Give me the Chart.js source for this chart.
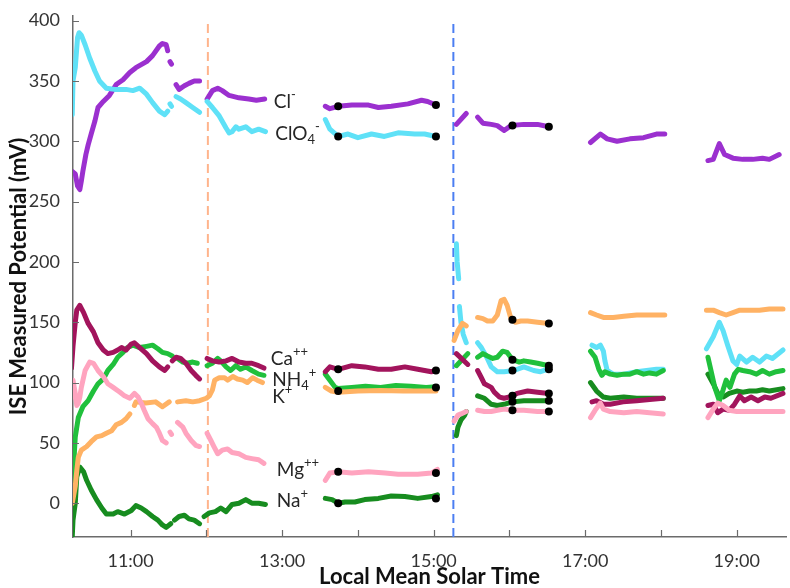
<!DOCTYPE html>
<html>
<head>
<meta charset="utf-8">
<script src="https://cdn.jsdelivr.net/npm/chart.js@4"></script>
<style>
  html, body { margin: 0; padding: 0; background: #fff; }
  #wrap { width: 790px; height: 588px; position: relative; }
</style>
</head>
<body>
<div id="wrap"><canvas id="iseChart"></canvas></div>
<script>
// time in decimal hours (LMST), potential in mV; each inner array is one run of readings
const clSegments = [
  [[10.23,275],[10.27,273],[10.30,263],[10.33,260],[10.35,267],[10.37,275],[10.41,289],[10.44,297],[10.48,306],[10.53,317],[10.57,328],[10.64,333],[10.72,338],[10.81,347],[10.90,351],[10.99,357],[11.07,361],[11.21,366],[11.29,371],[11.38,379],[11.42,381],[11.47,380],[11.49,375]],
  [[11.52,366],[11.54,364]],
  [[11.60,347],[11.64,343],[11.71,346],[11.77,348],[11.84,350],[11.91,350]],
  [[12.01,335],[12.08,342],[12.15,344],[12.21,342],[12.30,338],[12.43,336],[12.56,335],[12.66,334],[12.77,335]],
  [[13.57,329],[13.63,327],[13.74,329],[13.92,330],[14.14,330],[14.27,328],[14.44,329],[14.66,331],[14.84,334],[14.92,333],[15.03,330]],
  [[15.30,314],[15.43,323]],
  [[15.58,320],[15.65,315],[15.76,314],[15.84,313],[15.93,309],[16.02,313],[16.19,314],[16.37,314],[16.52,312]],
  [[17.07,299],[17.20,306],[17.29,302],[17.42,300],[17.59,302],[17.77,303],[17.94,306],[18.05,306]],
  [[18.62,284],[18.69,285],[18.77,298],[18.84,289],[18.95,286],[19.08,285],[19.21,285],[19.34,286],[19.43,285],[19.56,289]]
];

const clo4Segments = [
  [[10.23,322],[10.24,350],[10.27,361],[10.30,386],[10.32,390],[10.35,388],[10.40,380],[10.46,369],[10.53,358],[10.59,350],[10.68,344],[10.79,343],[10.94,343],[11.03,342],[11.12,344],[11.21,339],[11.29,332],[11.38,325],[11.45,322],[11.49,325]],
  [[11.52,331],[11.54,329]],
  [[11.60,337],[11.66,335],[11.73,332],[11.82,328],[11.91,324]],
  [[12.01,333],[12.08,328],[12.17,321],[12.26,311],[12.30,307],[12.34,308],[12.39,312],[12.43,310],[12.52,312],[12.60,308],[12.69,310],[12.78,308]],
  [[13.57,318],[13.63,310],[13.74,304],[13.87,306],[14.00,303],[14.18,306],[14.35,304],[14.53,307],[14.75,306],[14.88,306],[15.03,304]],
  [[15.30,215],[15.31,200],[15.33,186]],
  [[15.34,163],[15.36,150],[15.39,140],[15.43,133]],
  [[15.58,133],[15.63,129],[15.70,121],[15.76,113],[15.84,109],[15.93,109],[16.06,110],[16.19,113],[16.32,110],[16.41,109],[16.50,111]],
  [[17.09,131],[17.15,129],[17.20,131],[17.24,126],[17.26,118],[17.29,110],[17.37,107],[17.51,107],[17.68,109],[17.81,110],[17.94,111],[18.03,111]],
  [[18.60,128],[18.69,138],[18.77,150],[18.82,143],[18.88,131],[18.95,118],[19.00,115],[19.04,122],[19.13,117],[19.21,121],[19.30,117],[19.39,122],[19.47,120],[19.61,127]]
];

const caSegments = [
  [[10.22,112],[10.24,130],[10.27,150],[10.29,160],[10.33,164],[10.38,158],[10.44,149],[10.51,142],[10.57,133],[10.64,127],[10.70,124],[10.77,125],[10.83,127],[10.88,129],[10.94,127],[11.01,132],[11.05,133],[11.12,129],[11.21,124],[11.29,118],[11.38,113],[11.45,110],[11.49,113]],
  [[11.55,118],[11.60,121],[11.66,120],[11.73,116],[11.80,110],[11.86,106],[11.91,103]],
  [[12.01,120],[12.08,118],[12.17,117],[12.26,118],[12.34,120],[12.43,117],[12.52,116],[12.60,116],[12.69,114],[12.76,112]],
  [[13.57,109],[13.63,113],[13.74,111],[13.92,114],[14.09,113],[14.27,111],[14.44,111],[14.62,113],[14.79,111],[14.97,109],[15.03,110]],
  [[15.30,124],[15.45,115]],
  [[15.58,110],[15.63,104],[15.67,99],[15.76,96],[15.80,92],[15.87,88],[15.93,87],[16.00,88],[16.10,91],[16.24,93],[16.37,92],[16.52,91]],
  [[17.09,84],[17.15,85],[17.24,82],[17.33,82],[17.50,84],[17.68,85],[17.85,86],[18.03,87]],
  [[18.62,81],[18.69,82],[18.75,75],[18.82,78],[18.90,77],[18.97,82],[19.04,89],[19.10,85],[19.19,88],[19.28,85],[19.37,88],[19.45,87],[19.61,91]]
];

const nh4Segments = [
  [[10.23,-28],[10.23,16],[10.24,22],[10.27,55],[10.31,71],[10.37,80],[10.44,85],[10.51,93],[10.57,99],[10.64,103],[10.70,110],[10.77,115],[10.83,121],[10.90,125],[10.96,129],[11.03,131],[11.12,129],[11.21,130],[11.29,131],[11.36,128],[11.42,125],[11.49,124],[11.55,122]],
  [[11.62,120],[11.69,117],[11.75,116],[11.82,117],[11.88,116]],
  [[12.01,114],[12.08,116],[12.15,120],[12.19,118],[12.26,113],[12.32,110],[12.39,114],[12.45,111],[12.52,113],[12.60,110],[12.69,107],[12.76,106]],
  [[13.57,107],[13.63,102],[13.70,96],[13.74,95],[13.92,96],[14.10,97],[14.30,96],[14.50,97.5],[14.70,97],[14.90,96],[15.03,96.5]],
  [[15.30,114],[15.45,124]],
  [[15.58,121],[15.65,124],[15.71,122],[15.78,120],[15.84,121],[15.91,126],[15.97,125],[16.04,119],[16.13,117],[16.19,118],[16.28,117],[16.37,116],[16.52,114]],
  [[17.07,126],[17.13,121],[17.18,111],[17.22,106],[17.26,109],[17.33,107],[17.42,106],[17.51,107],[17.59,107],[17.68,109],[17.77,107],[17.85,108],[17.94,107],[18.03,110]],
  [[18.62,121],[18.66,110],[18.71,96],[18.77,85],[18.82,94],[18.86,102],[18.91,96],[18.97,107],[19.02,111],[19.08,110],[19.17,109],[19.26,107],[19.34,110],[19.43,107],[19.52,109],[19.61,110]]
];

const kSegments = [
  [[10.23,0],[10.27,14],[10.29,27],[10.31,38],[10.35,44],[10.42,47],[10.48,51],[10.55,55],[10.62,56],[10.68,58],[10.75,60],[10.81,65],[10.88,67],[10.94,70],[10.99,74]],
  [[11.05,81],[11.07,84],[11.20,83],[11.33,84],[11.42,80],[11.51,84]],
  [[11.62,84],[11.73,85],[11.82,84],[11.91,85],[12.00,87],[12.04,89],[12.08,94],[12.11,102],[12.17,104],[12.24,104],[12.28,102],[12.35,105],[12.41,103],[12.48,102],[12.54,100],[12.61,104],[12.67,102],[12.74,100]],
  [[13.57,96],[13.65,93],[13.74,92],[14.00,93],[14.30,93.5],[14.60,93],[14.90,93],[15.03,93]],
  [[15.27,135],[15.32,143],[15.38,149],[15.43,147]],
  [[15.58,154],[15.65,153],[15.71,151],[15.78,151],[15.84,156],[15.89,168],[15.93,169],[15.97,164],[16.02,153],[16.08,150],[16.15,151],[16.24,151],[16.37,150],[16.52,149]],
  [[17.07,158],[17.15,156],[17.24,154],[17.37,154],[17.51,155],[17.68,156],[17.85,156],[18.05,156]],
  [[18.60,160],[18.69,160],[18.77,158],[18.86,156],[18.95,158],[19.04,160],[19.17,160],[19.30,160],[19.43,161],[19.61,161]]
];

const mgSegments = [
  [[10.23,88],[10.24,102],[10.27,91],[10.29,81],[10.31,83],[10.33,88],[10.35,96],[10.40,110],[10.46,117],[10.51,116],[10.57,110],[10.64,105],[10.70,99],[10.77,96],[10.86,92],[10.92,89],[10.99,87],[11.05,91],[11.10,88],[11.14,83],[11.18,77],[11.23,70],[11.29,66],[11.34,63],[11.38,58],[11.42,52],[11.47,50]],
  [[11.52,59],[11.54,57]],
  [[11.62,67],[11.69,63],[11.73,58],[11.80,52],[11.86,48],[11.91,47]],
  [[12.01,58],[12.06,52],[12.10,47],[12.15,41],[12.21,44],[12.28,45],[12.34,42],[12.43,41],[12.52,38],[12.60,37],[12.69,36],[12.76,33]],
  [[13.57,19],[13.63,25],[13.74,26],[13.92,25],[14.14,26],[14.36,25],[14.53,24],[14.79,24],[14.97,25],[15.05,28]],
  [[15.27,68],[15.32,73],[15.36,74],[15.43,76]],
  [[15.58,77],[15.67,76],[15.76,76],[15.84,77],[15.93,78],[16.04,77],[16.19,77],[16.37,76],[16.52,76]],
  [[17.07,71],[17.13,77],[17.20,83],[17.24,78],[17.33,76],[17.51,75],[17.68,76],[17.85,75],[18.03,74]],
  [[18.62,71],[18.69,78],[18.75,83],[18.82,81],[18.90,77],[19.00,76],[19.17,76],[19.34,76],[19.61,76]]
];

const naSegments = [
  [[10.23,-28],[10.24,-14],[10.27,0],[10.29,22],[10.33,30],[10.38,26],[10.42,19],[10.48,11],[10.55,3],[10.62,-4],[10.68,-9],[10.77,-9],[10.83,-7],[10.92,-9],[11.01,-6],[11.07,-2],[11.14,-4],[11.21,-7],[11.29,-11],[11.36,-14],[11.42,-18],[11.47,-20],[11.53,-17]],
  [[11.58,-14],[11.64,-11],[11.71,-10],[11.77,-13],[11.84,-14],[11.91,-17]],
  [[11.97,-11],[12.04,-8],[12.12,-7],[12.19,-4],[12.26,-7],[12.34,-1],[12.43,0],[12.52,3],[12.60,0],[12.69,0],[12.78,-1]],
  [[13.57,4],[13.66,3],[13.74,0],[13.83,1],[13.96,1],[14.09,3],[14.27,4],[14.44,6],[14.62,5.5],[14.79,4],[14.97,5.5],[15.05,7]],
  [[15.30,56],[15.32,63],[15.36,69],[15.41,73],[15.43,76]],
  [[15.58,89],[15.67,87],[15.76,82],[15.84,81],[15.93,82],[16.04,84],[16.19,85],[16.37,85],[16.52,85]],
  [[17.07,100],[17.15,93],[17.24,88],[17.33,87],[17.51,88],[17.68,87],[17.85,87],[18.03,87]],
  [[18.62,107],[18.69,99],[18.75,91],[18.82,88],[18.90,91],[19.00,93],[19.08,92],[19.17,93],[19.26,93],[19.34,94],[19.43,93],[19.61,95]]
];

// calibration readings marked with black dots
const markerPoints = [
  [13.74,329],[13.74,304],[13.74,111],[13.74,93],[13.74,26],[13.74,0],
  [15.03,330],[15.03,304],[15.03,110],[15.03,96],[15.03,25],[15.03,4],
  [16.04,313],[16.04,152],[16.04,119],[16.04,110],[16.04,89],[16.04,84],[16.04,77],
  [16.52,312],[16.52,149],[16.52,114],[16.52,111],[16.52,91],[16.52,85],[16.52,76]
];

// event times shown as dashed verticals
const eventTimes = [12.02, 15.26];

// ion labels: [text, 'n' | 'sup' | 'sub'] parts
const ionLabels = [
  [['Cl','n'],['-','sup']],
  [['ClO','n'],['4','sub'],['-','sup']],
  [['Ca','n'],['++','sup']],
  [['NH','n'],['4','sub'],['+','sup']],
  [['K','n'],['+','sup']],
  [['Mg','n'],['++','sup']],
  [['Na','n'],['+','sup']]
];
const labelTimes = [12.89, 12.91, 12.85, 12.87, 12.87, 12.93, 12.93];
const labelValues = [332.5, 306.5, 120, 102.6, 88.5, 27.5, 2];

const yTicks = [0, 50, 100, 150, 200, 250, 300, 350, 400];
const xTicks = [11, 12, 13, 14, 15, 16, 17, 18, 19];

function toPoints(segments) {
  const out = [];
  segments.forEach((seg, i) => {
    if (i > 0) out.push({ x: seg[0][0], y: null });
    seg.forEach(([x, y]) => out.push({ x, y }));
  });
  return out;
}

function ionSet(label, segments, color, order) {
  return {
    label,
    data: toPoints(segments),
    showLine: true,
    spanGaps: false,
    borderColor: color,
    backgroundColor: color,
    borderWidth: 5,
    borderCapStyle: 'round',
    borderJoinStyle: 'round',
    pointRadius: 0,
    order
  };
}

function eventSet(t, color) {
  return {
    data: [{ x: t, y: -28 }, { x: t, y: 401 }],
    showLine: true,
    borderColor: color,
    borderWidth: 2,
    borderDash: [9, 5],
    pointRadius: 0,
    order: 20
  };
}

// inward tick marks on both axes
const innerTicks = {
  id: 'innerTicks',
  afterDraw(chart) {
    const { ctx, chartArea, scales: { x, y } } = chart;
    ctx.save();
    ctx.strokeStyle = '#6b6b6b';
    ctx.lineWidth = 1.2;
    ctx.beginPath();
    xTicks.forEach(v => {
      const px = Math.round(x.getPixelForValue(v)) + 0.5;
      ctx.moveTo(px, chartArea.bottom);
      ctx.lineTo(px, chartArea.bottom - 7);
    });
    yTicks.forEach(v => {
      const py = Math.round(y.getPixelForValue(v)) + 0.5;
      ctx.moveTo(chartArea.left, py);
      ctx.lineTo(chartArea.left + 6, py);
    });
    ctx.stroke();
    ctx.restore();
  }
};

const ionLabelPlugin = {
  id: 'ionLabels',
  afterDatasetsDraw(chart) {
    const { ctx, scales: { x, y } } = chart;
    ctx.save();
    ctx.fillStyle = '#262626';
    ctx.textBaseline = 'middle';
    ctx.textAlign = 'left';
    ionLabels.forEach((parts, i) => {
      let px = x.getPixelForValue(labelTimes[i]);
      const py = y.getPixelForValue(labelValues[i]);
      parts.forEach(([text, kind]) => {
        ctx.font = kind === 'n' ? '19px Lato' : '13px Lato';
        const dy = kind === 'sup' ? -7 : kind === 'sub' ? 6 : 0;
        ctx.fillText(text, px, py + dy);
        px += ctx.measureText(text).width;
      });
    });
    ctx.restore();
  }
};

new Chart(document.getElementById('iseChart'), {
  type: 'scatter',
  data: {
    datasets: [
      {
        label: 'calibration',
        data: markerPoints.map(([x, y]) => ({ x, y })),
        pointRadius: 4,
        pointBackgroundColor: '#000',
        pointBorderWidth: 0,
        showLine: false,
        order: 0
      },
      ionSet('Cl-', clSegments, '#9b30cf', 7),
      ionSet('ClO4-', clo4Segments, '#5fe1f7', 6),
      ionSet('Na+', naSegments, '#178c1f', 5),
      ionSet('NH4+', nh4Segments, '#20c03c', 4),
      ionSet('Ca++', caSegments, '#a2145c', 3),
      ionSet('K+', kSegments, '#ffb264', 2),
      ionSet('Mg++', mgSegments, '#ffa4bf', 1),
      eventSet(eventTimes[0], '#ffb48c'),
      eventSet(eventTimes[1], '#4b7ef2')
    ]
  },
  options: {
    responsive: true,
    maintainAspectRatio: false,
    animation: false,
    events: [],
    layout: { padding: { top: 15, right: 0, left: 0, bottom: 0 } },
    plugins: {
      legend: { display: false },
      tooltip: { enabled: false }
    },
    scales: {
      x: {
        type: 'linear',
        min: 10.24,
        max: 19.65,
        afterBuildTicks: s => { s.ticks = xTicks.map(value => ({ value })); },
        afterFit: s => { s.height = 51; },
        grid: { display: false },
        border: { display: true, color: '#6b6b6b', width: 1.5 },
        ticks: {
          autoSkip: false,
          maxRotation: 0,
          padding: 5,
          color: '#333',
          font: { family: 'Lato', size: 18 },
          callback: v => (v % 2 === 1 ? v + ':00' : '')
        },
        title: {
          display: true,
          text: 'Local Mean Solar Time',
          color: '#111',
          font: { family: 'Lato', size: 22, weight: 'bold', lineHeight: 1 },
          padding: { top: 0, bottom: 0 }
        }
      },
      y: {
        min: -28,
        max: 404,
        afterBuildTicks: s => { s.ticks = yTicks.map(value => ({ value })); },
        afterFit: s => { s.width = 73; },
        grid: { display: false },
        border: { display: true, color: '#6b6b6b', width: 1.5 },
        ticks: {
          padding: 5,
          color: '#333',
          font: { family: 'Lato', size: 18 }
        },
        title: {
          display: true,
          text: 'ISE Measured Potential (mV)',
          color: '#111',
          font: { family: 'Lato', size: 22, weight: 'bold', lineHeight: 1 },
          padding: { top: 8, bottom: 0 }
        }
      }
    }
  },
  plugins: [innerTicks, ionLabelPlugin]
});
</script>
</body>
</html>
